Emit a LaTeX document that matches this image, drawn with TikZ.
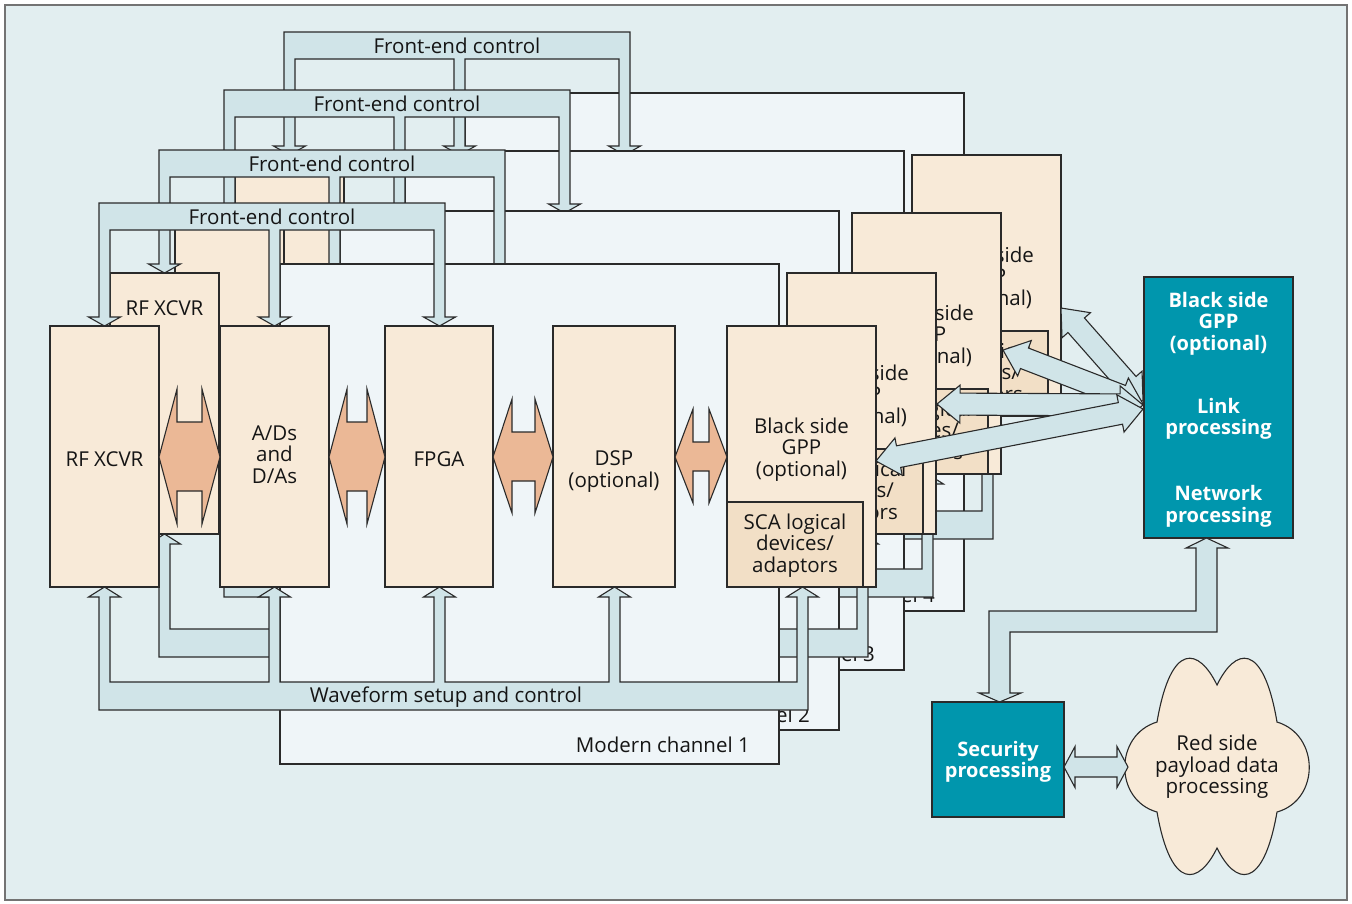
\documentclass[tikz,border=0pt]{standalone}
\usepackage{fontspec}
\setmainfont{Open Sans}
\usetikzlibrary{calc}
\definecolor{bg}{HTML}{E2EEF0}
\definecolor{panelc}{HTML}{EFF5F8}
\definecolor{busc}{HTML}{D0E4E8}
\definecolor{peach}{HTML}{F8EAD8}
\definecolor{scac}{HTML}{F2DFC6}
\definecolor{salmon}{HTML}{EBB896}
\definecolor{tealc}{HTML}{0096AD}
\definecolor{edge}{HTML}{2A2A2A}
\definecolor{ink}{HTML}{151515}
\tikzset{
  ln/.style={draw=edge, line width=1.1pt, line join=miter},
  panelbox/.style={ln, fill=panelc},
  busline/.style={ln, fill=busc},
  oline/.style={ln, fill=salmon},
  pbox/.style={ln, fill=peach, anchor=north west, inner sep=0pt, outer sep=0pt},
  tbox/.style={ln, fill=tealc, anchor=north west, inner sep=0pt, outer sep=0pt},
  txt/.style={font=\fontsize{20.5}{21.5}\selectfont, align=center, inner sep=0pt, text=ink, yshift=-1.5pt},
  wtxt/.style={font=\fontsize{20}{21.5}\selectfont\bfseries, align=center, inner sep=0pt, text=white, yshift=-2pt},
}
% orange double arrow: L s1 s2 R top notchtop notchbot bottom
\newcommand{\oarr}[8]{%
  \path[oline] (#1,457) -- (#2,#5) -- (#2,#6) -- (#3,#6) -- (#3,#5) -- (#4,457)
    -- (#3,#8) -- (#3,#7) -- (#2,#7) -- (#2,#8) -- cycle;}
% outlined double arrow between two named coordinates: head length, head half width, shaft half width
\newcommand{\dblarr}[5]{%
  \path[busline] (#1) -- ($(#1)!#3!(#2)!#4!90:(#2)$) -- ($(#1)!#3!(#2)!#5!90:(#2)$)
    -- ($(#2)!#3!(#1)!#5!-90:(#1)$) -- ($(#2)!#3!(#1)!#4!-90:(#1)$) -- (#2)
    -- ($(#2)!#3!(#1)!#4!90:(#1)$) -- ($(#2)!#3!(#1)!#5!90:(#1)$)
    -- ($(#1)!#3!(#2)!#5!-90:(#2)$) -- ($(#1)!#3!(#2)!#4!-90:(#2)$) -- cycle;}
% one modem channel: id, dx, dy, panel bottom, label y, RF label y (local coordinates)
\newcommand{\chan}[6]{%
\begin{scope}[shift={(#2,#3)}]
  \path[panelbox] (280,264) rectangle (779,#4);
  \node[txt, anchor=east] (chl#1) at (750,#5) {Modern channel #1};
  \node[pbox, minimum width=109pt, minimum height=261pt] (rf#1) at (50,326) {};
  \node[txt] (rft#1) at (104.5,#6) {RF XCVR};
  \node[pbox, minimum width=109pt, minimum height=261pt] (ad#1) at (220,326) {};
  \node[txt] (adt#1) at (274.5,453) {A/Ds\\and\\D/As};
  \node[pbox, minimum width=108pt, minimum height=261pt] (fpga#1) at (385,326) {};
  \node[txt] (fpgat#1) at (439,458) {FPGA};
  \node[pbox, minimum width=122pt, minimum height=261pt] (dsp#1) at (553,326) {};
  \node[txt] (dspt#1) at (614,470) {DSP\\(optional)};
  \node[pbox, minimum width=149pt, minimum height=261pt] (gpp#1) at (727,326) {};
  \node[txt] (gppt#1) at (801.5,448) {Black side\\GPP\\(optional)};
  \node[pbox, fill=scac, minimum width=136pt, minimum height=85pt] (sca#1) at (727,502) {};
  \node[txt] (scat#1) at (795,544) {SCA logical\\devices/\\adaptors};
  \oarr{159}{177}{202}{220}{389}{422}{491}{524}
  \oarr{329}{347}{367}{385}{389}{422}{491}{524}
  \oarr{493}{512}{535}{553}{399}{432}{481}{513}
  \oarr{675}{693}{709}{727}{409}{442}{471}{503}
  % front-end control bus
  \path[busline] (99,203) -- (445,203) -- (445,317) -- (455.5,317) -- (439.5,326) -- (423.5,317)
    -- (434,317) -- (434,230) -- (280,230) -- (280,317) -- (290.5,317) -- (274.5,326)
    -- (258.5,317) -- (269,317) -- (269,230) -- (110,230) -- (110,317) -- (120.5,317)
    -- (104.5,326) -- (88.5,317) -- (99,317) -- cycle;
  \node[txt] (fec#1) at (272,215.5) {Front-end control};
  % waveform setup bus
  \path[busline] (99,710) -- (808,710) -- (808,597) -- (818.5,597) -- (802.5,587) -- (786.5,597)
    -- (797,597) -- (797,682) -- (620,682) -- (620,597) -- (630.5,597) -- (614.5,587)
    -- (598.5,597) -- (609,597) -- (609,682) -- (445,682) -- (445,597) -- (455.5,597)
    -- (439.5,587) -- (423.5,597) -- (434,597) -- (434,682) -- (280,682) -- (280,597)
    -- (290.5,597) -- (274.5,587) -- (258.5,597) -- (269,597) -- (269,682) -- (110,682)
    -- (110,597) -- (120.5,597) -- (104.5,587) -- (88.5,597) -- (99,597) -- cycle;
  \node[txt] (wsc#1) at (446,696) {Waveform setup and control};
\end{scope}}

\begin{document}
\begin{tikzpicture}[x=1pt,y=-1pt]
\useasboundingbox (0,0) rectangle (1352,903);
\path[draw=black!55, line width=1.3pt, fill=bg] (5,5) rectangle (1347,900);

\chan{4}{185}{-171}{782}{764}{456}
\chan{3}{125}{-113}{783}{765}{456}
\chan{2}{60}{-53}{783}{766}{360}
\chan{1}{0}{0}{764}{743}{458}

% links from the channel GPPs to the black side GPP
\coordinate (g4) at (1061,308);
\coordinate (g3) at (1003,350);
\coordinate (g2) at (937,404);
\coordinate (g1) at (876,461);
\coordinate (k4) at (1143,401);
\coordinate (k3) at (1143,404);
\coordinate (k2) at (1143,405);
\coordinate (k1) at (1143,409);
\dblarr{g4}{k4}{23pt}{19pt}{11pt}
\dblarr{g3}{k3}{23pt}{19pt}{11pt}
\dblarr{g2}{k2}{23pt}{19pt}{11pt}
\dblarr{g1}{k1}{23pt}{19pt}{11pt}

% black side GPP
\node[tbox, minimum width=149pt, minimum height=261pt] (bgpp) at (1144,277) {};
\node[wtxt] (bgppt) at (1218.5,321.5) {Black side\\GPP\\(optional)};
\node[wtxt] (link) at (1218.5,417) {Link\\processing};
\node[wtxt] (net) at (1218.5,504.5) {Network\\processing};

% bus to security processing
\path[busline] (1196,548) -- (1186,548) -- (1206.5,538) -- (1228,548) -- (1217,548) -- (1217,632)
  -- (1010,632) -- (1010,693) -- (1021,693) -- (999.5,702) -- (979,693) -- (989,693)
  -- (989,611) -- (1196,611) -- cycle;

% security processing
\node[tbox, minimum width=132pt, minimum height=115pt] (sec) at (932,702) {};
\node[wtxt] (sect) at (998,760) {Security\\processing};

% red side cloud
\path[ln, fill=peach] (1217,685) .. controls (1235,648) and (1263,640) .. (1277,722)
  .. controls (1320,735) and (1320,800) .. (1277,812)
  .. controls (1263,892) and (1235,885) .. (1217,848)
  .. controls (1199,885) and (1171,892) .. (1157,812)
  .. controls (1114,800) and (1114,735) .. (1157,722)
  .. controls (1171,640) and (1199,648) .. (1217,685) -- cycle;
\node[txt] (red) at (1217,765.5) {Red side\\payload data\\processing};

\coordinate (sa) at (1064,767);
\coordinate (sb) at (1128,767);
\dblarr{sa}{sb}{11pt}{20.5pt}{10pt}
\end{tikzpicture}
\end{document}
